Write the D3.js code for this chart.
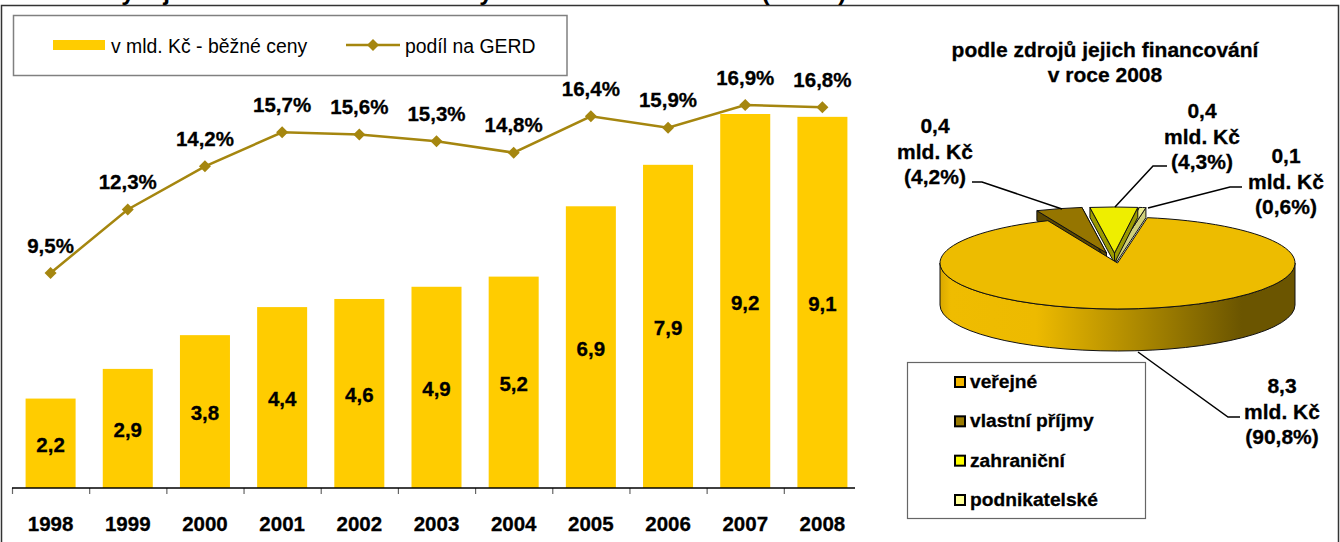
<!DOCTYPE html>
<html>
<head>
<meta charset="utf-8">
<script src="https://cdn.jsdelivr.net/npm/d3@7"></script>
<style>
  html, body { margin: 0; padding: 0; background: #fff; overflow: hidden; }
  text { font-family: "Liberation Sans", Arial, sans-serif; fill: #000; }
</style>
</head>
<body>
<div id="chart"></div>
<script>
// data
var years = ["1998","1999","2000","2001","2002","2003","2004","2005","2006","2007","2008"];
var spending = [2.2,2.93,3.76,4.45,4.65,4.95,5.2,6.93,7.95,9.2,9.13];
var spendingLabels = ["2,2","2,9","3,8","4,4","4,6","4,9","5,2","6,9","7,9","9,2","9,1"];
var gerdShare = [9.5,12.3,14.2,15.7,15.6,15.3,14.8,16.4,15.9,16.9,16.8];
var gerdLabels = ["9,5%","12,3%","14,2%","15,7%","15,6%","15,3%","14,8%","16,4%","15,9%","16,9%","16,8%"];
var sources = ["veřejné","vlastní příjmy","zahraniční","podnikatelské"];
var sourceShares = [90.8,4.2,4.3,0.6];
var sourceLabels = [["8,3","mld. Kč","(90,8%)"],["0,4","mld. Kč","(4,2%)"],["0,4","mld. Kč","(4,3%)"],["0,1","mld. Kč","(0,6%)"]];

var w = 1340, h = 542;
var svg = d3.select("#chart").append("svg").attr("width",w).attr("height",h).style("display","block");

// outer frame
svg.append("path").attr("d","M1.5,542V5.5H1338.5V542").attr("fill","none").attr("stroke","#333").attr("stroke-width",1.5);

// scales
var barBase = 488;
var xScale = d3.scaleBand().domain(years).range([12,861]).paddingInner(0.352).paddingOuter(0.176);
var yBar = d3.scaleLinear().domain([0,9.2]).range([barBase,114]);
var yLine = d3.scaleLinear().domain([9.5,16.9]).range([273,105]);
var xTicks = d3.scaleLinear().domain([0,11]).range([12,861]);
var lineColor = "#A5860F";
var barColor = "#FFCC00";
var cx = function(d) { return xScale(d)+xScale.bandwidth()/2; };

// bars
svg.selectAll("rect.bar").data(years).enter().append("rect").attr("class","bar")
  .attr("x",function(d) { return xScale(d); })
  .attr("y",function(d,i) { return yBar(spending[i]); })
  .attr("width",xScale.bandwidth())
  .attr("height",function(d,i) { return barBase-yBar(spending[i]); })
  .attr("fill",barColor);

svg.selectAll("text.barlabel").data(years).enter().append("text").attr("class","barlabel")
  .attr("x",cx)
  .attr("y",function(d,i) { return (yBar(spending[i])+barBase)/2+1.5; })
  .attr("dy","0.35em").attr("text-anchor","middle")
  .style("font-size","20.5px").style("font-weight","bold")
  .text(function(d,i) { return spendingLabels[i]; });

// axis
var xAxis = d3.axisBottom(xTicks).tickValues(d3.range(11)).tickFormat("").tickSizeInner(6).tickSizeOuter(0);
var axisG = svg.append("g").attr("transform","translate(0,"+barBase+")").call(xAxis);
axisG.select(".domain").remove();
axisG.selectAll("line").attr("stroke","#666").attr("stroke-width",1.2);
svg.append("line").attr("x1",12).attr("x2",855).attr("y1",barBase).attr("y2",barBase).attr("stroke","#000").attr("stroke-width",1.5);

svg.selectAll("text.year").data(years).enter().append("text").attr("class","year")
  .attr("x",cx).attr("y",531).attr("text-anchor","middle")
  .style("font-size","20.5px").style("font-weight","bold")
  .text(function(d) { return d; });

// share line
var line = d3.line().x(function(d,i) { return cx(years[i]); }).y(function(d) { return yLine(d); });
svg.append("path").datum(gerdShare).attr("d",line).attr("fill","none").attr("stroke",lineColor).attr("stroke-width",2.5);

var diamond = d3.symbol().type(d3.symbolDiamond2).size(92);
svg.selectAll("path.marker").data(gerdShare).enter().append("path").attr("class","marker")
  .attr("d",diamond)
  .attr("transform",function(d,i) { return "translate("+cx(years[i])+","+yLine(d)+")"; })
  .attr("fill",lineColor);

svg.selectAll("text.share").data(gerdShare).enter().append("text").attr("class","share")
  .attr("x",function(d,i) { return cx(years[i]); })
  .attr("y",function(d) { return yLine(d)-20.5; })
  .attr("text-anchor","middle")
  .style("font-size","20.5px").style("font-weight","bold")
  .text(function(d,i) { return gerdLabels[i]; });

// top legend
svg.append("rect").attr("x",13.5).attr("y",15.5).attr("width",553.5).attr("height",60).attr("fill","#fff").attr("stroke","#808080").attr("stroke-width",1.5);
svg.append("rect").attr("x",53).attr("y",40).attr("width",52).attr("height",10).attr("fill",barColor);
svg.append("text").attr("x",111).attr("y",53).style("font-size","19.4px").text("v mld. Kč - běžné ceny");
svg.append("line").attr("x1",346).attr("x2",400).attr("y1",45).attr("y2",45).attr("stroke",lineColor).attr("stroke-width",2.5);
svg.append("path").attr("d",diamond).attr("transform","translate(373,45)").attr("fill",lineColor);
svg.append("text").attr("x",405).attr("y",53).style("font-size","19.4px").text("podíl na GERD");

// pie title
svg.append("text").attr("x",1105).attr("y",57).attr("text-anchor","middle").style("font-size","21px").style("font-weight","bold").text("podle zdrojů jejich financování");
svg.append("text").attr("x",1105).attr("y",82).attr("text-anchor","middle").style("font-size","21px").style("font-weight","bold").text("v roce 2008");

// 3d pie
var pieX = 1117.5, pieY = 263, rx = 177.5, ry = 46, depth = 42, wedgeDepth = 10;
var tilt = ry/rx;
var topColors = ["#EDBC00","#957500","#EEEE00","#EEEE8E"];
var sideColors = ["#8a6e00","#5A4700","#9A9A00","#CFCF7A"];
var swatchColors = ["#F5B800","#997A00","#FFFF00","#FFFF99"];
var offsets = [[0,0],[-11,-10],[-3,-10],[-1.5,-10]];

var startAngle = 9.7*Math.PI/180;
var pie = d3.pie().sort(null).startAngle(startAngle).endAngle(startAngle+2*Math.PI);
var slices = pie(sourceShares);
var arc = d3.arc().innerRadius(0).outerRadius(rx);

function rim(a,o) { return [pieX+o[0]+rx*Math.sin(a),pieY+o[1]-ry*Math.cos(a)]; }

var grad = svg.append("defs").append("linearGradient").attr("id","pieSide")
  .attr("gradientUnits","userSpaceOnUse").attr("x1",pieX-rx).attr("x2",pieX+rx).attr("y1",0).attr("y2",0);
[[0,"#D9A800"],[0.03,"#EFBC00"],[0.27,"#EDBA00"],[0.55,"#AE8A00"],[0.85,"#6B5500"],[1,"#6B5500"]].forEach(function(s) {
  grad.append("stop").attr("offset",s[0]).attr("stop-color",s[1]);
});

// small exploded wedges go first, the big slice covers their feet
[3,2,1].forEach(function(i) {
  var s = slices[i], o = offsets[i];
  var apex = [pieX+o[0],pieY+o[1]];
  [s.startAngle,s.endAngle].forEach(function(a) {
    var p = rim(a,o);
    svg.append("path")
      .attr("d","M"+apex+"L"+p+"L"+[p[0],p[1]+wedgeDepth]+"L"+[apex[0],apex[1]+wedgeDepth]+"Z")
      .attr("fill",sideColors[i]).attr("stroke","#111").attr("stroke-width",1);
  });
  svg.append("path").attr("d",arc(s))
    .attr("transform","translate("+apex+") scale(1,"+tilt+")")
    .attr("fill",topColors[i]).attr("stroke","#111").attr("stroke-width",1)
    .attr("vector-effect","non-scaling-stroke");
});

svg.append("path")
  .attr("d","M"+(pieX-rx)+","+pieY+"A"+rx+","+ry+" 0 0 0 "+(pieX+rx)+","+pieY+"V"+(pieY+depth)+"A"+rx+","+ry+" 0 0 1 "+(pieX-rx)+","+(pieY+depth)+"Z")
  .attr("fill","url(#pieSide)").attr("stroke","#111").attr("stroke-width",1);
svg.append("path").attr("d",arc(slices[0]))
  .attr("transform","translate("+pieX+","+pieY+") scale(1,"+tilt+")")
  .attr("fill",topColors[0]).attr("stroke","#111").attr("stroke-width",1)
  .attr("vector-effect","non-scaling-stroke");

// leader lines, same order as sources
var leaders = [
  [[1138,352],[1228,417],[1240,417]],
  [[972,182],[982,182],[1062,209]],
  [[1167,166],[1153,166],[1115,207]],
  [[1242,187],[1230,187],[1148,208]]
];
svg.selectAll("path.leader").data(leaders).enter().append("path").attr("class","leader")
  .attr("d",d3.line()).attr("fill","none").attr("stroke","#000").attr("stroke-width",1.5);

var labelPos = [[1282,393],[935,133],[1202,118],[1286,163]];
sourceLabels.forEach(function(lines,i) {
  svg.append("text").attr("text-anchor","middle").style("font-size","21px").style("font-weight","bold")
    .selectAll("tspan").data(lines).enter().append("tspan")
    .attr("x",labelPos[i][0])
    .attr("y",function(d,j) { return labelPos[i][1]+j*25.5; })
    .text(function(d) { return d; });
});

// pie legend
svg.append("rect").attr("x",907.5).attr("y",362.5).attr("width",238).attr("height",156).attr("fill","#fff").attr("stroke","#666").attr("stroke-width",1.2);
var legendY = d3.scalePoint().domain(sources).range([382,500]);
svg.selectAll("rect.swatch").data(sources).enter().append("rect").attr("class","swatch")
  .attr("x",955).attr("y",function(d) { return legendY(d)-5; }).attr("width",10).attr("height",10)
  .attr("fill",function(d,i) { return swatchColors[i]; }).attr("stroke","#000").attr("stroke-width",2);
svg.selectAll("text.source").data(sources).enter().append("text").attr("class","source")
  .attr("x",970).attr("y",function(d) { return legendY(d)+6; })
  .style("font-size","19.2px").style("font-weight","bold")
  .text(function(d) { return d; });

// the source text is set a touch heavier than plain bold
svg.selectAll("text").filter(function() { return this.style.fontWeight=="bold"; })
  .style("stroke","#000").style("stroke-width",0.3);

// title, cut off by the top of the picture
svg.append("text").attr("x",20).attr("y",0).style("font-size","24.3px").style("font-weight","bold")
  .text("Graf 1: Výdaje na VaV uskutečněné ve vysokoškolském sektoru (HERD)");
</script>
</body>
</html>
